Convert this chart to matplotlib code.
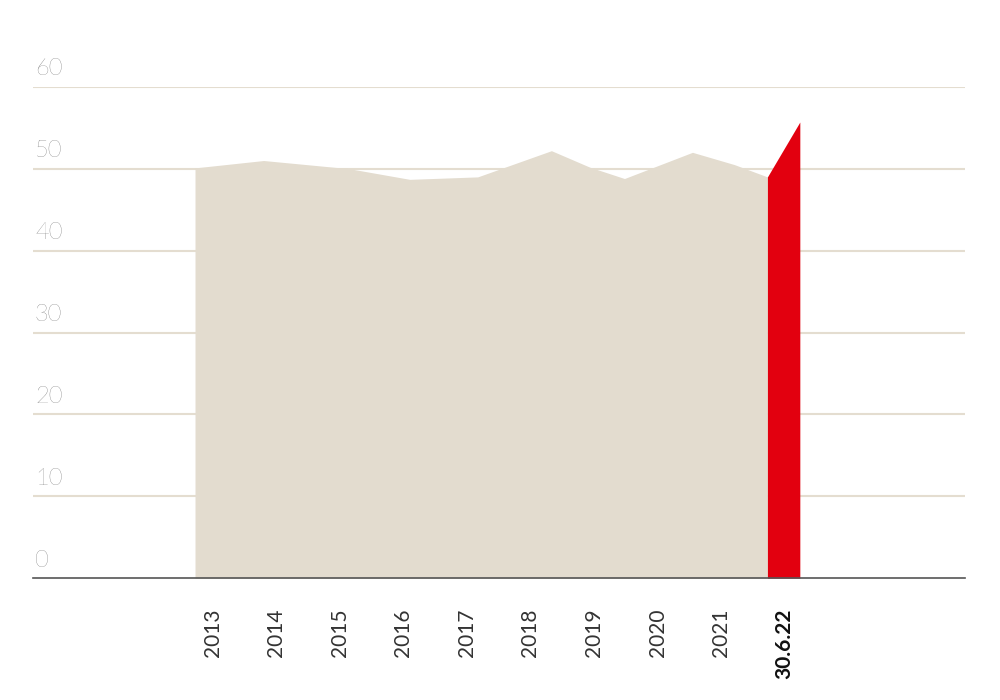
import matplotlib
matplotlib.use("Agg")
import matplotlib.pyplot as plt

# data
hist_x = [2012.72, 2013.8, 2015.15, 2016.1, 2017.17, 2018.33, 2018.93, 2019.48, 2020.55, 2021.21, 2021.73]
hist_y = [50.1, 51.0, 50.0, 48.7, 49.0, 52.2, 50.2, 48.8, 52.0, 50.5, 49.0]
cur_x = [2021.73, 2022.24]
cur_y = [49.0, 55.7]
tick_pos = [2013, 2014, 2015, 2016, 2017, 2018, 2019, 2020, 2021, 2022]
tick_labels = ["2013", "2014", "2015", "2016", "2017", "2018", "2019", "2020", "2021", "30.6.22"]
y_ticks = [0, 10, 20, 30, 40, 50, 60]

fig = plt.figure(figsize=(10, 7), dpi=100)
ax = fig.add_axes([0.033, 0.174, 0.932, 0.702])
ax.set_xlim(2010.17, 2024.84)
ax.set_ylim(0, 60)
for y in y_ticks[1:]:
    ax.axhline(y, color="#e4ddd0", lw=1.5, zorder=0)
ax.fill_between(hist_x, 0, hist_y, color="#e3dccf", lw=0, zorder=2)
ax.fill_between(cur_x, 0, cur_y, color="#e2000f", lw=0, zorder=2)
for s in ["top", "right", "left"]:
    ax.spines[s].set_visible(False)
ax.spines["bottom"].set_color("#555555")
ax.spines["bottom"].set_linewidth(1.2)
ax.set_yticks([])
ax.set_xticks(tick_pos)
ax.set_xticklabels(tick_labels, rotation=90, fontsize=15, color="#333333", fontfamily="Lato")
ax.get_xticklabels()[-1].set_fontweight("bold")
ax.get_xticklabels()[-1].set_color("#111111")
ax.tick_params(axis="x", length=0, pad=22)
for y in y_ticks:
    ax.text(2010.2, y + 0.9, str(y), fontsize=17, color="#555555", fontfamily="Lato",
            fontweight="light", va="bottom", ha="left")
fig.savefig("out.png", dpi=100)
